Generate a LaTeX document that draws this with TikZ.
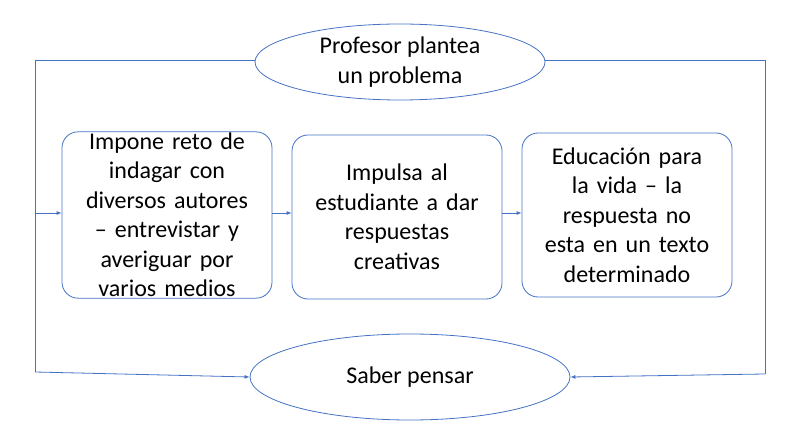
\documentclass[tikz,border=0pt]{standalone}
\usepackage{fontspec}
\setmainfont{Carlito}
\usetikzlibrary{shapes.geometric,arrows.meta}
\definecolor{lc}{RGB}{68,114,196}
\begin{document}
\begin{tikzpicture}[x=1pt,y=-1pt,
  ln/.style={draw=lc, line width=0.8pt},
  arr/.style={ln,-{Latex[length=5pt,width=4pt]}},
  bx/.style={ln,rounded corners=16pt,minimum width=210pt,minimum height=164pt,text width=206pt,align=center,font=\fontsize{24}{29.5}\selectfont,inner sep=1pt},
  el/.style={ln,ellipse,align=center,font=\fontsize{24}{30}\selectfont,inner sep=0pt}]
\useasboundingbox (0,0) rectangle (796,436);
\node[el,minimum width=290pt,minimum height=76pt] (top) at (400,62) {Profesor plantea\\un problema};
\node[el,minimum width=320pt,minimum height=86pt] (bot) at (410,377) {Saber pensar};
\node[bx] (b1) at (167,215) {Impone reto de\\indagar con\\diversos autores\\– entrevistar y\\averiguar por\\varios medios};
\node[bx] (b2) at (397,217) {Impulsa al\\estudiante a dar\\respuestas\\creativas};
\node[bx] (b3) at (627,215) {Educación para\\la vida – la\\respuesta no\\esta en un texto\\determinado};
\coordinate (lt) at (35,60); \coordinate (lm) at (35,213); \coordinate (lb) at (35,372);
\coordinate (rt) at (765,60); \coordinate (rb) at (765,374);
\draw[ln] (top.west |- lt) -- (lt) -- (lb);
\draw[arr] (lb) -- (bot.west);
\draw[arr] (lm) -- (b1.west |- lm);
\draw[ln] (top.east |- rt) -- (rt) -- (rb);
\draw[arr] (rb) -- (bot.east);
\draw[arr] (b1.east |- lm) -- (b2.west |- lm);
\draw[arr] (b2.east |- lm) -- (b3.west |- lm);
\end{tikzpicture}
\end{document}
